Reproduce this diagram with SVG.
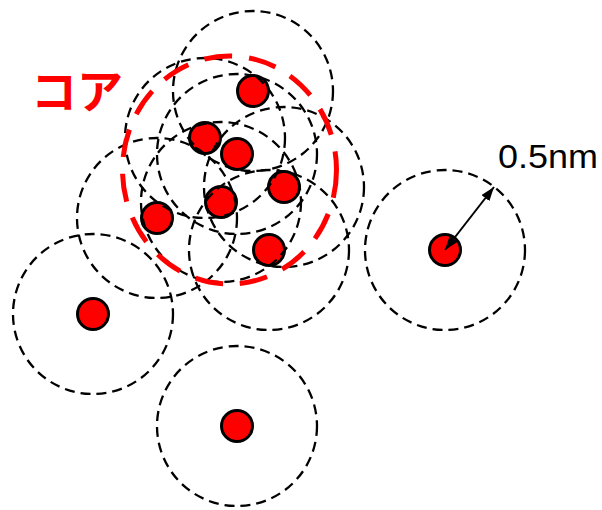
<svg xmlns="http://www.w3.org/2000/svg" width="602" height="510" viewBox="0 0 602 510">
  <style>
    .dot { fill: #ff0000; stroke: #000; stroke-width: 3; }
    .zone { fill: none; stroke: #000; stroke-width: 2.3; stroke-dasharray: 10 6; }
    .core { fill: none; stroke: #ff0000; stroke-width: 5; stroke-dasharray: 28 17; }
    .label { font-family: "Liberation Sans", Arial, sans-serif; font-size: 33px; fill: #000; }
    .corelabel { font-family: "Noto Sans CJK JP", "Noto Sans CJK SC", sans-serif; font-weight: bold; font-size: 46px; fill: #ff0000; }
  </style>
  <defs>
    <marker id="ah" viewBox="0 0 14 10" refX="14" refY="5" markerWidth="14" markerHeight="10" markerUnits="userSpaceOnUse" orient="auto-start-reverse">
      <path d="M0,0 L14,5 L0,10 Z" fill="#000"/>
    </marker>
  </defs>
  <rect width="602" height="510" fill="#fff"/>

  <g id="atoms">
    <g id="atom1"><circle class="dot" cx="253" cy="91" r="15.5"/></g>
    <g id="atom2"><circle class="dot" cx="205" cy="138" r="15.5"/></g>
    <g id="atom3"><circle class="dot" cx="237" cy="154" r="15.5"/></g>
    <g id="atom4"><circle class="dot" cx="284" cy="187" r="15.5"/></g>
    <g id="atom5"><circle class="dot" cx="221" cy="202" r="15.5"/></g>
    <g id="atom6"><circle class="dot" cx="157" cy="218" r="15.5"/></g>
    <g id="atom7"><circle class="dot" cx="269" cy="250" r="15.5"/></g>
    <g id="atom8"><circle class="dot" cx="445" cy="250" r="15.5"/></g>
    <g id="atom9"><circle class="dot" cx="93" cy="314" r="15.5"/></g>
    <g id="atom10"><circle class="dot" cx="237" cy="426" r="15.5"/></g>
  </g>

  <g id="zones">
    <circle id="zone1" class="zone" cx="253" cy="91" r="80"/>
    <circle id="zone2" class="zone" cx="205" cy="138" r="80"/>
    <circle id="zone3" class="zone" cx="237" cy="154" r="80"/>
    <circle id="zone4" class="zone" cx="284" cy="187" r="80"/>
    <circle id="zone5" class="zone" cx="221" cy="202" r="80"/>
    <circle id="zone6" class="zone" cx="157" cy="218" r="80"/>
    <circle id="zone7" class="zone" cx="269" cy="250" r="80"/>
    <circle id="zone8" class="zone" cx="445" cy="250" r="80"/>
    <circle id="zone9" class="zone" cx="93" cy="314" r="80"/>
    <circle id="zone10" class="zone" cx="237" cy="426" r="80"/>
  </g>

  <g id="core">
    <ellipse class="core" cx="229.5" cy="170" rx="107" ry="114"/>
    <text class="corelabel" x="31" y="108">コア</text>
  </g>

  <g id="connectors">
    <line x1="445" y1="250" x2="494" y2="187" stroke="#000" stroke-width="2" marker-start="url(#ah)" marker-end="url(#ah)"/>
    <text class="label" x="498" y="167.5" textLength="100" lengthAdjust="spacingAndGlyphs">0.5nm</text>
  </g>
</svg>
